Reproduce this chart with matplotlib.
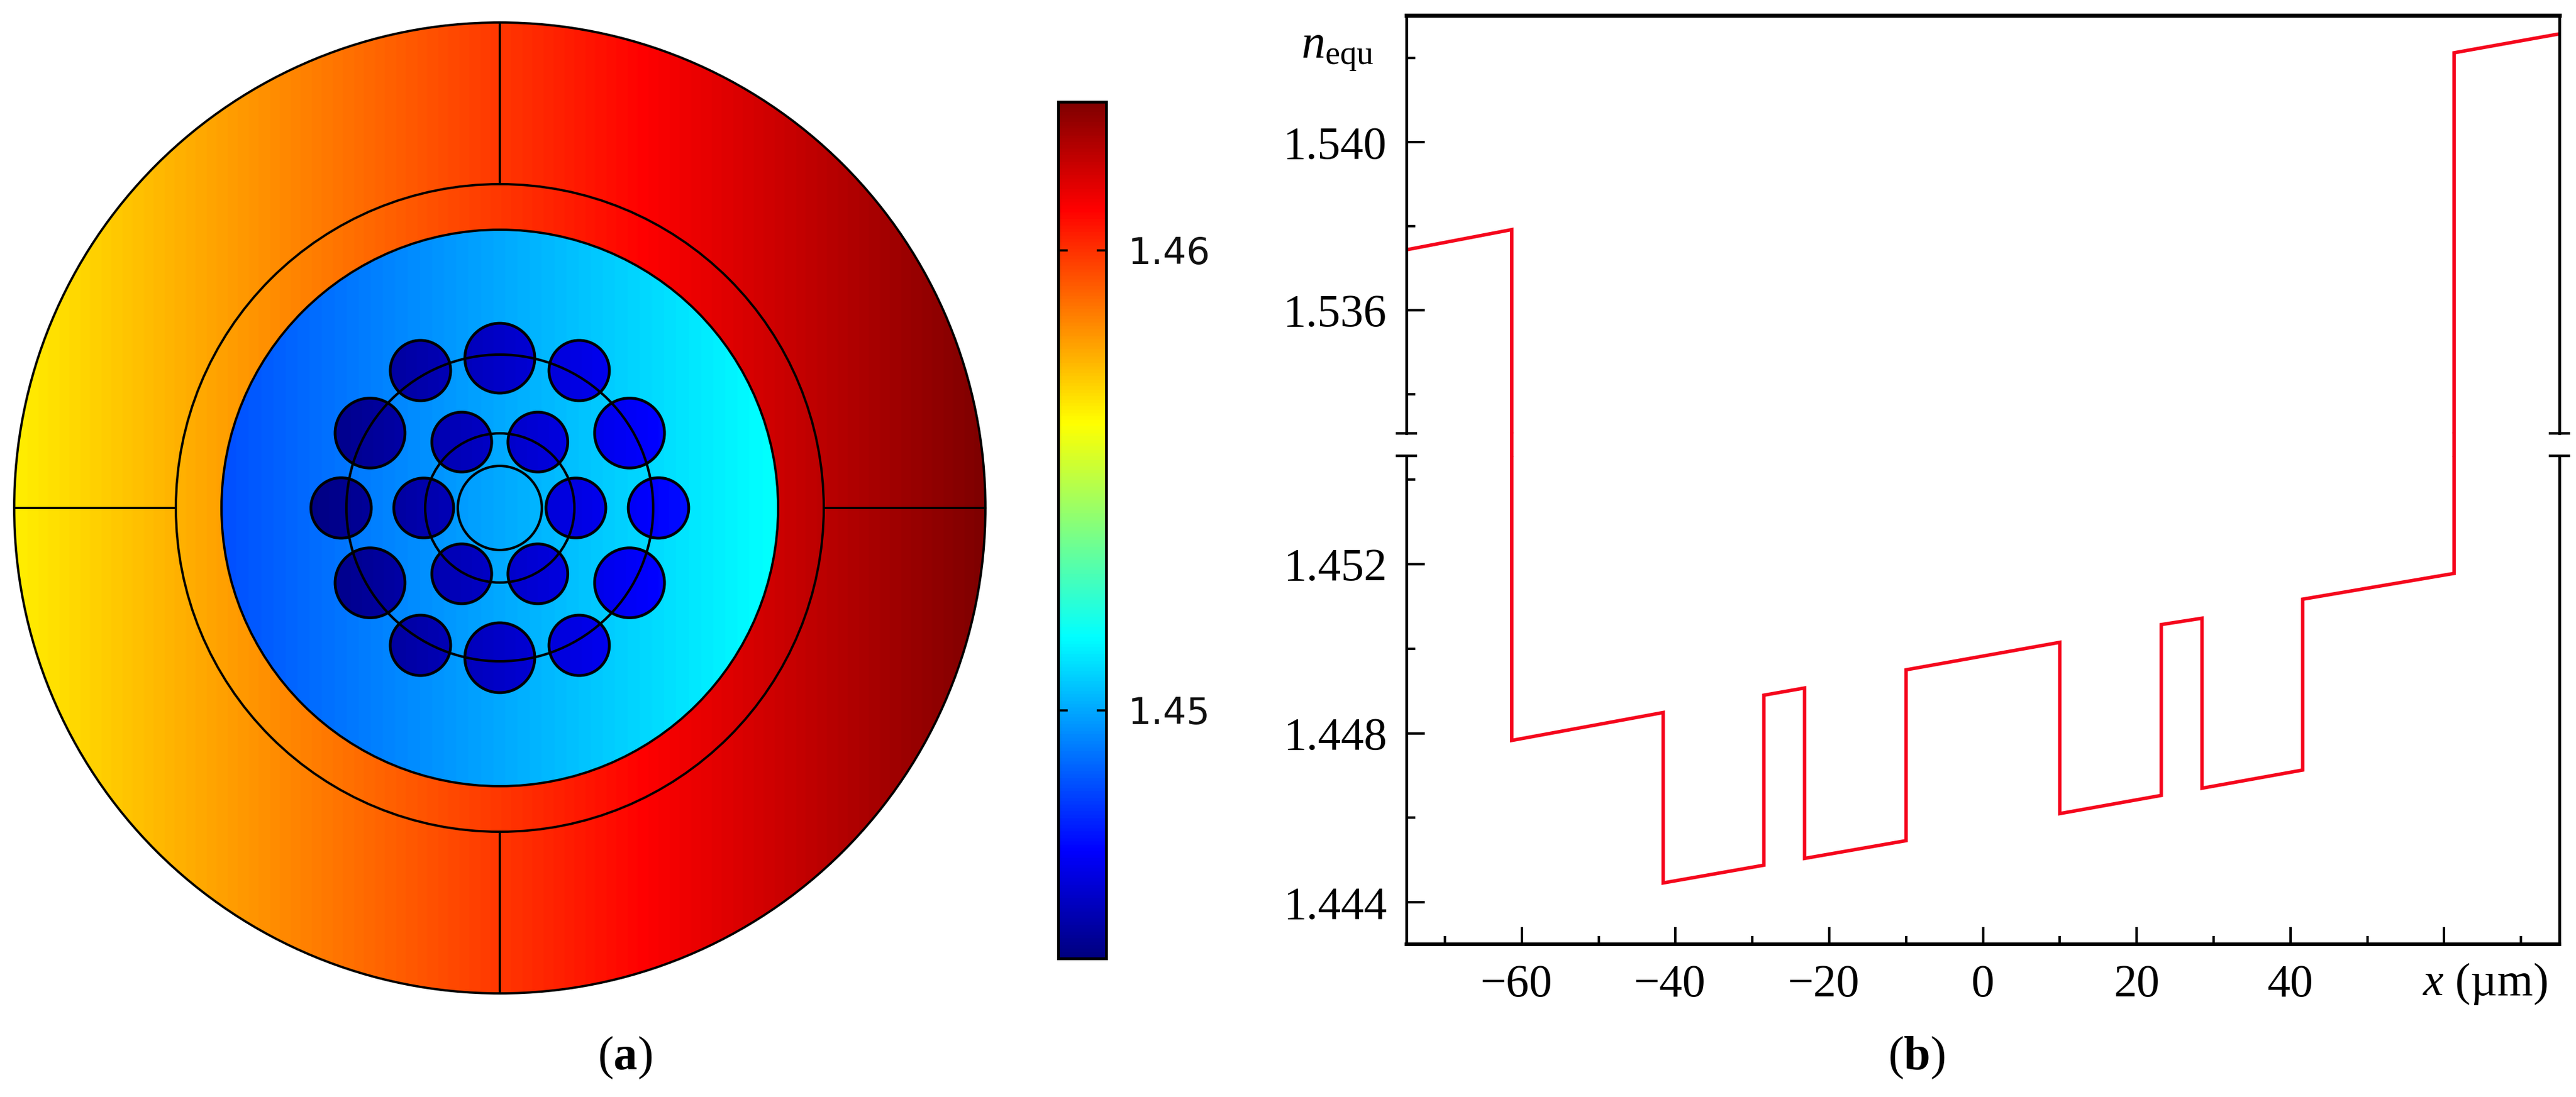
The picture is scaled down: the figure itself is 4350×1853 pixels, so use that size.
import numpy as np
import matplotlib
matplotlib.use("Agg")
import matplotlib.pyplot as plt
from matplotlib.patches import Circle, PathPatch, ConnectionPatch
from matplotlib.path import Path
from matplotlib.colors import Normalize, LinearSegmentedColormap
from matplotlib.ticker import FixedLocator
from matplotlib.transforms import ScaledTranslation

plt.rcParams['mathtext.fontset'] = 'custom'
plt.rcParams['mathtext.rm'] = 'Liberation Serif'
plt.rcParams['mathtext.it'] = 'Liberation Serif:italic'
plt.rcParams['mathtext.bf'] = 'Liberation Serif:bold'

W, H, DPI = 4350, 1853, 100

# ---- panel (a): index field of the fibre cross-section (radii in drawing units)
r_outer = 820
r_ring = 547
r_inner = 470
r_core = 71
r_guide = [126, 259]
inner_hole_radius = 50.5
inner_hole_pitch = 128.5
inner_hole_angles = [0, 60, 120, 180, 240, 300]
small_hole_radius = 51
small_hole_pitch = 268
small_hole_angles = [0, 60, 120, 180, 240, 300]
big_hole_radius = 59
big_hole_pitch = 253
big_hole_angles = [30, 90, 150, 210, 270, 330]

n_min, n_max = 1.4446, 1.46323
cbar_ticks = [1.45, 1.46]
cbar_labels = ['1.45', '1.46']
outer_n = [1.45652, 1.46323]     # left edge, right edge
inner_n = [1.44837, 1.45168]
hole_n = [1.4447, 1.4472]

# ---- panel (b): equivalent index profile
x_vals = [-75, -61.3, -61.3, -41.6, -41.6, -28.5, -28.5, -23.2, -23.2, -10, -10, 10, 10,
          23.2, 23.2, 28.5, 28.5, 41.6, 41.6, 61.3, 61.3, 75]
n_vals = [1.53744, 1.53792, 1.44783, 1.44849, 1.44446, 1.44488, 1.44890, 1.44907, 1.44504,
          1.44546, 1.44950, 1.45015, 1.44610, 1.44653, 1.45057, 1.45072, 1.44670, 1.44713,
          1.45117, 1.45178, 1.54213, 1.54258]
x_ticks = [-60, -40, -20, 0, 20, 40, 60]
x_tick_labels = ['\u221260', '\u221240', '\u221220', '0', '20', '40', '']
x_minor = [-70, -50, -30, -10, 10, 30, 50, 70]
y_ticks_upper = [1.536, 1.540]
y_labels_upper = ['1.536', '1.540']
y_ticks_lower = [1.444, 1.448, 1.452]
y_labels_lower = ['1.444', '1.448', '1.452']
y_minor_upper = [1.534, 1.538, 1.542]
y_minor_lower = [1.446, 1.450, 1.454]

jet_stops = [(0.0, (0, 0, 0.5)), (0.125, (0, 0, 1)), (0.375, (0, 1, 1)),
             (0.625, (1, 1, 0)), (0.875, (1, 0, 0)), (1.0, (0.5, 0, 0))]
jet = LinearSegmentedColormap.from_list('matlab_jet', jet_stops, N=256)

fig = plt.figure(figsize=(W / DPI, H / DPI), dpi=DPI, facecolor='white')


def box(l, t, r, b):
    return [l / W, 1 - b / H, (r - l) / W, (b - t) / H]


# ---------- panel (a)
ax = fig.add_axes(box(0, 0, 2100, 1853))
ax.set_axis_off()
norm = Normalize(n_min, n_max)


def field(values, half, clip):
    grad = np.linspace(values[0], values[1], 600)[None, :]
    im = ax.imshow(grad, cmap=jet, norm=norm, extent=[-half, half, -half, half],
                   aspect='auto', interpolation='bilinear')
    clip.set_transform(ax.transData)
    ax.add_patch(clip)
    im.set_clip_path(clip)
    return im


field(outer_n, r_outer, Circle((0, 0), r_outer, fc='none', ec='none'))
field(inner_n, r_inner, Circle((0, 0), r_inner, fc='none', ec='none'))

centres = []
for pitch, rad, angs in [(inner_hole_pitch, inner_hole_radius, inner_hole_angles),
                         (small_hole_pitch, small_hole_radius, small_hole_angles),
                         (big_hole_pitch, big_hole_radius, big_hole_angles)]:
    for a in angs:
        centres.append((pitch * np.cos(np.radians(a)), pitch * np.sin(np.radians(a)), rad))
hole_path = Path.make_compound_path(*[Path.circle((cx, cy), rr) for cx, cy, rr in centres])
field(hole_n, small_hole_pitch + small_hole_radius,
      PathPatch(hole_path, fc='none', ec='none'))

for cx, cy, rr in centres:
    ax.add_patch(Circle((cx, cy), rr, fc='none', ec='black', lw=3.4))
for rr in r_guide + [r_core]:
    ax.add_patch(Circle((0, 0), rr, fc='none', ec='black', lw=3.0))
for rr in [r_outer, r_ring, r_inner]:
    ax.add_patch(Circle((0, 0), rr, fc='none', ec='black', lw=2.8))
for sx, sy in [(0, 1), (0, -1), (1, 0), (-1, 0)]:
    ax.plot([sx * r_ring, sx * r_outer], [sy * r_ring, sy * r_outer], color='black', lw=2.8)
ax.set_xlim(-844, 1256)
ax.set_ylim(-995, 858)

cax = fig.add_axes(box(1787, 172, 1868, 1619))
sm = plt.cm.ScalarMappable(norm=norm, cmap=jet)
cb = fig.colorbar(sm, cax=cax, ticks=cbar_ticks)
cb.ax.set_yticklabels(cbar_labels)
cb.outline.set_linewidth(3.4)
cb.ax.tick_params(axis='y', which='major', direction='in', left=True, right=True,
                  length=11.5, width=2.6, pad=26, labelsize=45)
for t in cb.ax.get_yticklabels():
    t.set_family('DejaVu Sans')
    t.set_color('#111111')

# ---------- panel (b)
serif = 'Liberation Serif'
up = fig.add_axes(box(2375, 26, 4322, 732))
lo = fig.add_axes(box(2375, 770, 4322, 1595))
red = '#f5061c'
for a in (up, lo):
    a.plot(x_vals, n_vals, color=red, lw=4.2, solid_joinstyle='miter')
    a.set_xlim(-75, 75)
    a.patch.set_alpha(0)
    for s in ('left', 'right'):
        a.spines[s].set_linewidth(3.4)
up.set_ylim(1.53307, 1.54302)
lo.set_ylim(1.44301, 1.45456)
up.spines['bottom'].set_visible(False)
lo.spines['top'].set_visible(False)
up.spines['top'].set_linewidth(5)
lo.spines['bottom'].set_linewidth(4.4)

up.set_xticks([])
up.yaxis.set_major_locator(FixedLocator(y_ticks_upper))
up.set_yticklabels(y_labels_upper)
up.yaxis.set_minor_locator(FixedLocator(y_minor_upper))
lo.yaxis.set_major_locator(FixedLocator(y_ticks_lower))
lo.set_yticklabels(y_labels_lower)
lo.yaxis.set_minor_locator(FixedLocator(y_minor_lower))
lo.set_xticks(x_ticks)
lo.set_xticklabels(x_tick_labels)
lo.xaxis.set_minor_locator(FixedLocator(x_minor))

for a in (up, lo):
    a.tick_params(axis='y', which='major', direction='in', length=22, width=3, pad=24, labelsize=56)
    a.tick_params(axis='y', which='minor', direction='in', length=11, width=3)
    for t in a.get_yticklabels():
        t.set_family(serif)
lo.tick_params(axis='x', which='major', direction='in', length=21, width=3, pad=24, labelsize=56)
lo.tick_params(axis='x', which='minor', direction='in', length=10, width=3)
shift = ScaledTranslation(-10 / DPI, 0, fig.dpi_scale_trans)
for t, lab in zip(lo.get_xticklabels(), x_tick_labels):
    t.set_family(serif)
    if lab.startswith('\u2212'):
        t.set_transform(t.get_transform() + shift)

# vertical jumps continue through the axis break
for xj in (x_vals[1], x_vals[19]):
    fig.add_artist(ConnectionPatch((xj, up.get_ylim()[0]), (xj, lo.get_ylim()[1]),
                                   coordsA=up.transData, coordsB=lo.transData,
                                   color=red, lw=4.2))
# break marks on both sides
for a, yy in ((up, 0), (lo, 1)):
    a.plot([0, 1], [yy, yy], transform=a.transAxes, ls='none', marker='_',
           markersize=26, markeredgewidth=3.2, color='black', clip_on=False)


def ptext(px, py, s, **kw):
    fig.text(px / W, 1 - py / H, s, **kw)


ptext(2197, 98, r'$\mathit{n}_{\mathrm{equ}}$', fontsize=58, ha='left', va='baseline', family=serif)
ptext(4302, 1681, r'$\mathit{x}$ (µm)', fontsize=56, ha='right', va='baseline', family=serif)
ptext(1055, 1806, r'($\mathbf{a}$)', fontsize=58, ha='center', va='baseline', family=serif)
ptext(3236, 1806, r'($\mathbf{b}$)', fontsize=58, ha='center', va='baseline', family=serif)

fig.savefig('out.png', dpi=DPI, facecolor='white')
